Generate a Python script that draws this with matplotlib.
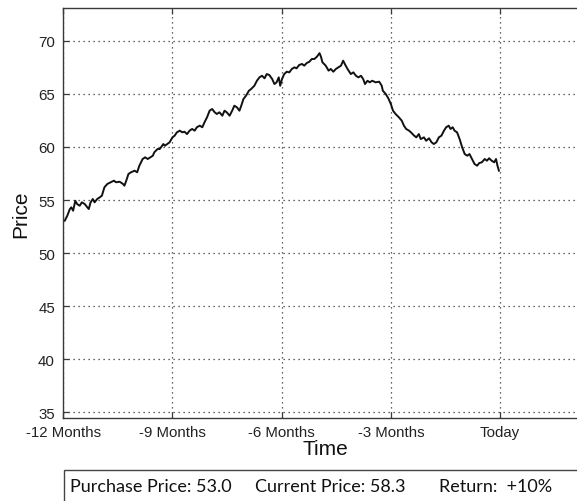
import matplotlib
matplotlib.use("Agg")
import matplotlib.pyplot as plt
from matplotlib.patches import Rectangle

# Time in months relative to today, and price
months = [-11.96, -11.89, -11.82, -11.78, -11.73, -11.67, -11.62, -11.55, -11.49, -11.41,
          -11.34, -11.30, -11.25, -11.19, -11.14, -11.07, -11.00, -10.94, -10.87, -10.79,
          -10.70, -10.61, -10.55, -10.45, -10.36, -10.32, -10.27, -10.21, -10.14, -10.04,
          -9.97, -9.91, -9.82, -9.75, -9.68, -9.61, -9.54, -9.50, -9.41, -9.35,
          -9.25, -9.21, -9.08, -9.00, -8.94, -8.88, -8.80, -8.73, -8.67, -8.60,
          -8.53, -8.46, -8.39, -8.33, -8.25, -8.18, -8.12, -8.05, -7.98, -7.91,
          -7.84, -7.78, -7.71, -7.63, -7.57, -7.51, -7.43, -7.36, -7.30, -7.23,
          -7.16, -7.11, -7.05, -6.98, -6.90, -6.84, -6.75, -6.68, -6.61, -6.54,
          -6.47, -6.41, -6.34, -6.26, -6.20, -6.14, -6.08, -6.04, -5.99, -5.93,
          -5.86, -5.79, -5.72, -5.65, -5.59, -5.52, -5.44, -5.38, -5.31, -5.24,
          -5.17, -5.10, -5.03, -4.96, -4.92, -4.88, -4.79, -4.71, -4.65, -4.58,
          -4.51, -4.44, -4.37, -4.31, -4.25, -4.19, -4.10, -4.03, -3.96, -3.89,
          -3.82, -3.76, -3.71, -3.64, -3.58, -3.51, -3.42, -3.32, -3.25, -3.22,
          -3.14, -3.07, -3.00, -2.94, -2.87, -2.78, -2.70, -2.64, -2.58, -2.50,
          -2.43, -2.36, -2.30, -2.23, -2.18, -2.09, -2.03, -1.95, -1.88, -1.82,
          -1.75, -1.68, -1.61, -1.54, -1.48, -1.41, -1.36, -1.30, -1.25, -1.18,
          -1.11, -1.04, -0.97, -0.90, -0.84, -0.77, -0.70, -0.63, -0.57, -0.50,
          -0.42, -0.36, -0.30, -0.23, -0.16, -0.11, -0.07, -0.03]
prices = [53.05, 53.52, 54.15, 54.31, 53.99, 54.93, 54.62, 54.46, 54.78, 54.62,
          54.31, 54.15, 54.78, 55.09, 54.78, 55.09, 55.25, 55.40, 56.20, 56.51,
          56.67, 56.82, 56.67, 56.72, 56.51, 56.35, 56.82, 57.45, 57.61, 57.76,
          57.61, 58.23, 58.86, 59.02, 58.86, 59.02, 59.17, 59.49, 59.80, 59.80,
          60.27, 60.11, 60.43, 60.90, 61.06, 61.37, 61.53, 61.37, 61.43, 61.21,
          61.53, 61.69, 61.53, 61.85, 62.00, 61.85, 62.32, 62.79, 63.41, 63.57,
          63.26, 63.10, 63.26, 62.94, 63.41, 63.26, 62.94, 63.41, 63.88, 63.73,
          63.41, 63.88, 64.51, 64.82, 65.29, 65.45, 65.76, 66.23, 66.55, 66.70,
          66.46, 66.86, 66.77, 66.39, 65.92, 66.08, 66.55, 65.76, 66.39, 66.86,
          67.08, 67.02, 67.34, 67.49, 67.40, 67.71, 67.81, 67.65, 67.90, 68.02,
          68.28, 68.28, 68.50, 68.83, 68.50, 67.97, 67.65, 67.18, 67.34, 67.08,
          67.34, 67.49, 67.65, 68.12, 67.71, 67.34, 66.86, 67.02, 66.70, 66.55,
          66.70, 66.39, 65.92, 66.23, 66.08, 66.23, 66.08, 66.14, 65.76, 65.29,
          64.98, 64.58, 64.04, 63.41, 63.10, 62.79, 62.47, 62.00, 61.69, 61.53,
          61.31, 61.06, 60.90, 61.21, 60.74, 60.90, 60.58, 60.81, 60.43, 60.27,
          60.43, 60.90, 61.06, 61.53, 61.85, 62.00, 61.69, 61.85, 61.53, 61.37,
          60.74, 59.96, 59.33, 59.17, 59.33, 58.86, 58.39, 58.23, 58.48, 58.55,
          58.86, 58.70, 58.93, 58.70, 58.55, 58.86, 58.23, 57.76]

x_ticks = [-12, -9, -6, -3, 0]
x_ticklabels = ["-12 Months", "-9 Months", "-6 Months", "-3 Months", "Today"]
y_ticks = [35, 40, 45, 50, 55, 60, 65, 70]

purchase_price = 53.0
current_price = 58.3
ret_pct = 10

W, H = 577, 502
fig = plt.figure(figsize=(W / 100, H / 100), dpi=100)
fig.patch.set_facecolor("white")

left_px, right_px, top_px, bottom_px = 63.3, 587.0, 9.0, 418.7
ax = fig.add_axes([left_px / W, 1 - bottom_px / H,
                   (right_px - left_px) / W, (bottom_px - top_px) / H])

axis_col = "#3a3a3a"
ax.plot(months, prices, color="#111111", lw=1.4)

ax.set_xlim(-12, 2.39)
ax.set_ylim(34.5, 73.08)
ax.set_xticks(x_ticks)
ax.set_xticklabels(x_ticklabels)
ax.set_yticks(y_ticks)

ax.grid(True, linestyle=(0, (1, 3)), color="#333333", lw=0.9)
for s in ax.spines.values():
    s.set_color(axis_col)
    s.set_linewidth(1.0)
ax.spines["right"].set_visible(False)

ax.tick_params(axis="both", direction="in", length=4, width=0.9, color=axis_col,
               labelcolor="#222222", top=True, right=False)
ax.tick_params(axis="x", pad=5)
ax.tick_params(axis="y", pad=6)
for lbl in ax.get_xticklabels() + ax.get_yticklabels():
    lbl.set_family("Liberation Sans")
    lbl.set_fontsize(10.8)

ax.set_xlabel("Time", fontsize=15, family="Liberation Sans", color="#111111", labelpad=0)
ax.set_ylabel("Price", fontsize=15, family="Liberation Sans", color="#111111", labelpad=6)

# Summary box at the bottom
box_left = 64.3 / W
box_top = 1 - 471.0 / H
fig.patches.append(Rectangle((box_left, -0.05), 1.0, box_top + 0.05,
                             transform=fig.transFigure, fill=False,
                             edgecolor="#444444", lw=1.0))
ty = 1 - 487.5 / H
fkw = dict(fontsize=13, family="Lato", color="#111111", va="center", ha="left")
fig.text(70 / W, ty, f"Purchase Price: {purchase_price:.1f}", **fkw)
fig.text(255 / W, ty, f"Current Price: {current_price:.1f}", **fkw)
fig.text(439 / W, ty, f"Return:  +{ret_pct}%", **fkw)

fig.savefig("out.png", dpi=100)
